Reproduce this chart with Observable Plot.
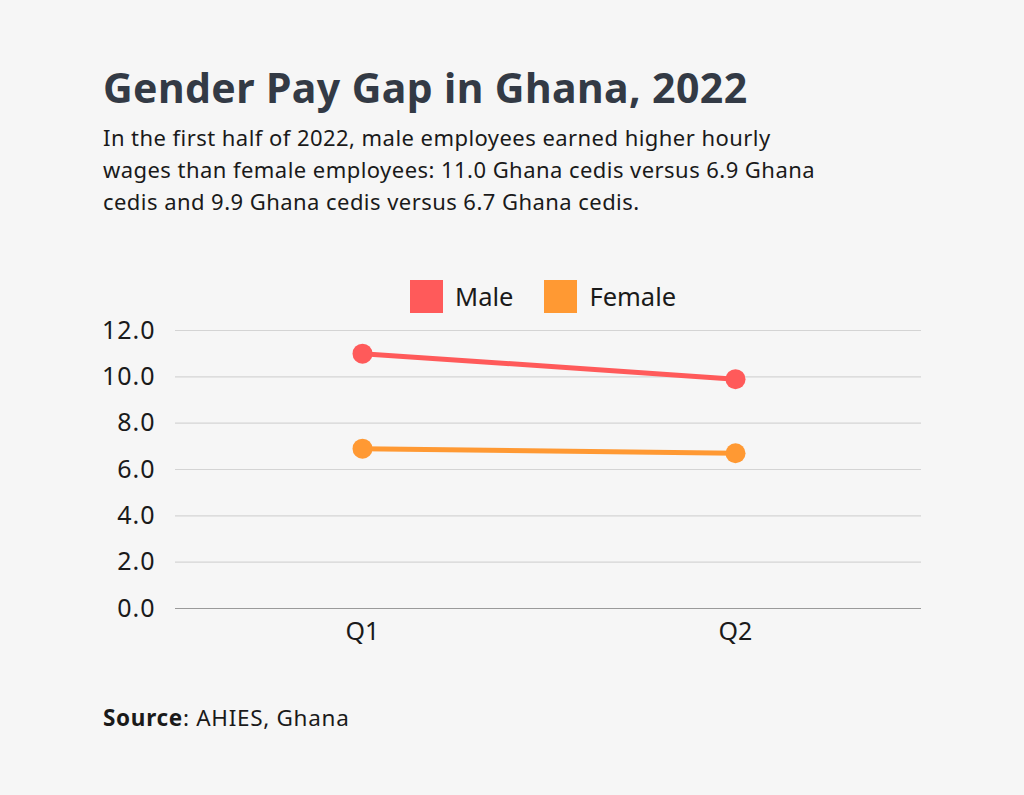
<!DOCTYPE html>
<html>
<head>
<meta charset="utf-8">
<script src="https://cdn.jsdelivr.net/npm/d3@7"></script>
<script src="https://cdn.jsdelivr.net/npm/@observablehq/plot@0.6"></script>
<style>
  html, body { margin: 0; padding: 0; background: #f6f6f6; width: 1024px; height: 795px; overflow: hidden; font-family: "Noto Sans", sans-serif; }
  #title { position: absolute; left: 103px; top: 59px; font-size: 41px; font-weight: 700; color: #333a45; letter-spacing: 0.4px; white-space: nowrap; }
  #subtitle { position: absolute; left: 103px; top: 121px; width: 800px; font-size: 22px; line-height: 32px; color: #1a1a1a; letter-spacing: 0.45px; white-space: nowrap; }
  #legend { position: absolute; left: 410px; top: 279px; display: flex; align-items: center; font-size: 25.5px; color: #1a1a1a; }
  .sw { width: 33px; height: 33px; display: inline-block; margin-right: 12px; }
  .item { display: flex; align-items: center; margin-right: 31px; }
  #chart { position: absolute; left: 0; top: 310px; }
  #source { position: absolute; left: 103px; top: 702px; font-size: 22.5px; color: #1a1a1a; letter-spacing: 0.7px; }
  #chart svg g[aria-label="y-axis tick label"] text { letter-spacing: 1px; }
</style>
</head>
<body>
<div id="title">Gender Pay Gap in Ghana, 2022</div>
<div id="subtitle">In the first half of 2022, male employees earned higher hourly<br>wages than female employees: 11.0 Ghana cedis versus 6.9 Ghana<br>cedis and 9.9 Ghana cedis versus 6.7 Ghana cedis.</div>
<div id="legend"></div>
<div id="chart"></div>
<div id="source"><b>Source</b>: AHIES, Ghana</div>
<script>
const quarters = ["Q1", "Q2"];
const series = ["Male", "Female"];
const maleValues = [11.0, 9.9];
const femaleValues = [6.9, 6.7];
const colors = ["#ff5a5a", "#ff9933"];
const yTicks = [0, 2, 4, 6, 8, 10, 12];

const data = [];
quarters.forEach((q, i) => {
  data.push({quarter: q, series: "Male", value: maleValues[i]});
  data.push({quarter: q, series: "Female", value: femaleValues[i]});
});

const legend = document.getElementById("legend");
series.forEach((s, i) => {
  const item = document.createElement("div");
  item.className = "item";
  item.innerHTML = `<span class="sw" style="background:${colors[i]}"></span><span>${s}</span>`;
  legend.appendChild(item);
});

const chart = Plot.plot({
  width: 1024,
  height: 350,
  marginLeft: 175,
  marginRight: 103,
  marginTop: 20,
  marginBottom: 52,
  style: { background: "transparent", fontFamily: "'Noto Sans', sans-serif", fontSize: "25px", color: "#1a1a1a" },
  x: { type: "point", domain: quarters, padding: 0.5, label: null, tickSize: 0, tickPadding: 14 },
  y: { domain: [0, 12], ticks: yTicks, tickFormat: d3.format(".1f"), label: null, tickSize: 0, tickPadding: 20 },
  color: { domain: series, range: colors },
  marks: [
    Plot.gridY(yTicks, { stroke: "#d4d4d4", strokeOpacity: 1, strokeWidth: 1.2 }),
    Plot.ruleY([0], { stroke: "#9a9a9a", strokeWidth: 1.2 }),
    Plot.line(data, { x: "quarter", y: "value", z: "series", stroke: "series", strokeWidth: 5 }),
    Plot.dot(data, { x: "quarter", y: "value", fill: "series", r: 10 })
  ]
});
document.getElementById("chart").appendChild(chart);
</script>
</body>
</html>
